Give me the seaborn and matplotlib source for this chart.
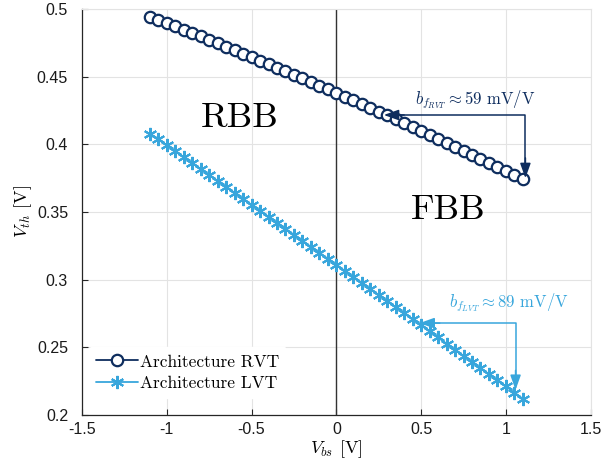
import numpy as np
import pandas as pd
import seaborn as sns
import matplotlib.pyplot as plt

# body bias voltage sweep and threshold voltages
vbs = [-1.10, -1.05, -1.00, -0.95, -0.90, -0.85, -0.80, -0.75, -0.70, -0.65,
       -0.60, -0.55, -0.50, -0.45, -0.40, -0.35, -0.30, -0.25, -0.20, -0.15,
       -0.10, -0.05, 0.00, 0.05, 0.10, 0.15, 0.20, 0.25, 0.30, 0.35,
       0.40, 0.45, 0.50, 0.55, 0.60, 0.65, 0.70, 0.75, 0.80, 0.85,
       0.90, 0.95, 1.00, 1.05, 1.10]
vth_rvt = [0.4943, 0.4919, 0.4895, 0.4871, 0.4846, 0.4822, 0.4797, 0.4772, 0.4747, 0.4722,
           0.4696, 0.4671, 0.4645, 0.4619, 0.4593, 0.4567, 0.4541, 0.4514, 0.4488, 0.4461,
           0.4434, 0.4407, 0.4380, 0.4353, 0.4325, 0.4298, 0.4270, 0.4242, 0.4214, 0.4186,
           0.4157, 0.4129, 0.4100, 0.4071, 0.4042, 0.4013, 0.3984, 0.3954, 0.3925, 0.3895,
           0.3865, 0.3835, 0.3805, 0.3775, 0.3744]
vth_lvt = [0.4080, 0.4037, 0.3993, 0.3949, 0.3905, 0.3862, 0.3818, 0.3774, 0.3730, 0.3686,
           0.3642, 0.3598, 0.3553, 0.3509, 0.3465, 0.3421, 0.3377, 0.3332, 0.3288, 0.3243,
           0.3199, 0.3155, 0.3110, 0.3065, 0.3021, 0.2976, 0.2932, 0.2887, 0.2842, 0.2797,
           0.2752, 0.2707, 0.2662, 0.2618, 0.2573, 0.2527, 0.2482, 0.2437, 0.2392, 0.2347,
           0.2302, 0.2256, 0.2211, 0.2166, 0.2120]
series = ["Architecture RVT", "Architecture LVT"]
xticks = [-1.5, -1, -0.5, 0, 0.5, 1, 1.5]
yticks = [0.2, 0.25, 0.3, 0.35, 0.4, 0.45, 0.5]

navy = "#0e2d5e"
light = "#38a6dc"

df_rvt = pd.DataFrame({"Vbs": vbs, "Vth": vth_rvt})
df_lvt = pd.DataFrame({"Vbs": vbs, "Vth": vth_lvt})

sns.set_style("whitegrid")
plt.rcParams["mathtext.fontset"] = "cm"
plt.rcParams["font.family"] = ["cmr10", "DejaVu Serif"]
plt.rcParams["axes.unicode_minus"] = False
plt.rcParams["axes.formatter.use_mathtext"] = True
plt.rcParams["text.color"] = "black"
plt.rcParams["axes.labelcolor"] = "black"

fig = plt.figure(figsize=(6.02, 4.65), dpi=100)
ax = fig.add_axes([0.1362, 0.1075, 0.845, 0.8731])

sns.lineplot(data=df_rvt, x="Vbs", y="Vth", color=navy, marker="o", label=series[0],
             sort=False, ax=ax, linewidth=1.3, markersize=8.2,
             markerfacecolor="white", markeredgecolor=navy, markeredgewidth=1.6)
sns.lineplot(data=df_lvt, x="Vbs", y="Vth", color=light, marker=(6, 2, 0), label=series[1],
             sort=False, ax=ax, linewidth=1.3, markersize=9.5,
             markeredgecolor=light, markeredgewidth=1.5)

ax.axvline(0, color="#333333", linewidth=1, zorder=1)

ax.set_xlim(-1.5, 1.5)
ax.set_ylim(0.2, 0.5)
ax.set_xticks(xticks)
ax.set_yticks(yticks)
ax.set_xticklabels([f"{t:g}" for t in xticks], fontfamily="Liberation Sans", fontsize=11.5)
ax.set_yticklabels([f"{t:g}" for t in yticks], fontfamily="Liberation Sans", fontsize=11.5)
ax.tick_params(axis="x", pad=5)
ax.tick_params(axis="y", pad=10)
ax.tick_params(direction="in", length=4, color="#262626", labelcolor="#1a1a1a",
               bottom=True, left=True)
ax.grid(True, color="#e3e3e3", linewidth=0.8)
for s in ["top", "right"]:
    ax.spines[s].set_color("#e3e3e3")
for s in ["left", "bottom"]:
    ax.spines[s].set_color("#262626")
    ax.spines[s].set_linewidth(0.9)

ax.set_xlabel(r"$V_{bs}$ [V]", fontsize=13, labelpad=1)
ax.set_ylabel(r"$V_{th}$ [V]", fontsize=13, labelpad=2)

ax.text(-0.57, 0.4194, "RBB", fontsize=26, ha="center", va="center")
ax.text(0.66, 0.3514, "FBB", fontsize=26, ha="center", va="center")

# slope annotations with elbow arrows
arr = dict(arrowstyle="-|>,head_length=0.9,head_width=0.32", lw=1.1, shrinkA=0, shrinkB=0)
ax.plot([0.36, 1.115, 1.115], [0.4217, 0.4217, 0.385], color=navy, lw=1.1)
ax.annotate("", xy=(0.28, 0.4217), xytext=(0.40, 0.4217), arrowprops={**arr, "color": navy})
ax.annotate("", xy=(1.115, 0.375), xytext=(1.115, 0.39), arrowprops={**arr, "color": navy})
ax.text(0.82, 0.4327, r"$b_{f_{RVT}} \approx 59$ mV/V", color=navy, fontsize=12, ha="center", va="center")

ax.plot([0.57, 1.057, 1.057], [0.2679, 0.2679, 0.228], color=light, lw=1.1)
ax.annotate("", xy=(0.49, 0.2679), xytext=(0.61, 0.2679), arrowprops={**arr, "color": light})
ax.annotate("", xy=(1.057, 0.2185), xytext=(1.057, 0.233), arrowprops={**arr, "color": light})
ax.text(1.02, 0.2834, r"$b_{f_{LVT}} \approx 89$ mV/V", color=light, fontsize=12, ha="center", va="center")

leg = ax.legend(loc="lower left", bbox_to_anchor=(0.0, 0.025), frameon=True, fontsize=12.5,
                handlelength=2.4, handletextpad=0.15, borderaxespad=0.4, labelspacing=0.35)
leg.get_frame().set_edgecolor("white")
leg.get_frame().set_facecolor("white")
leg.get_frame().set_alpha(1)

fig.savefig("out.png", dpi=100)
